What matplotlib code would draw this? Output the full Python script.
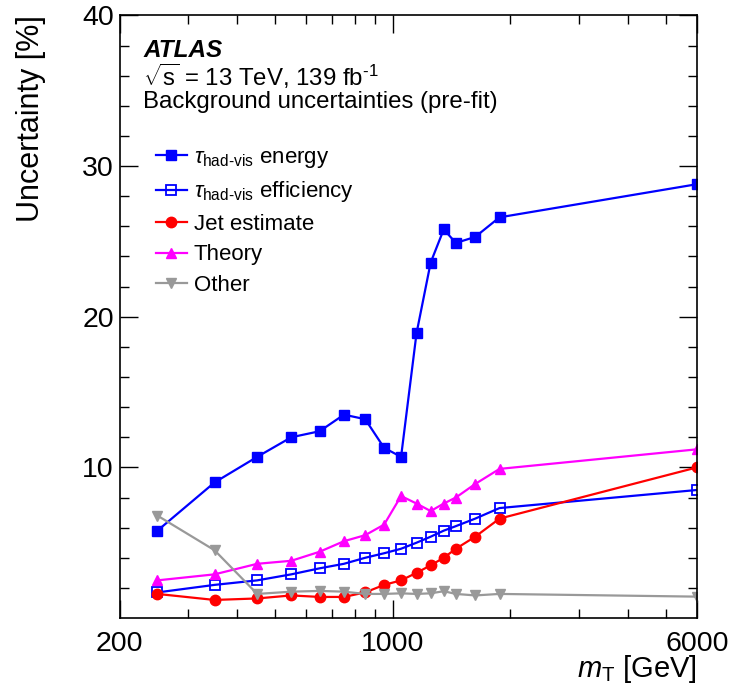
"""
Background uncertainties (pre-fit) vs m_T - ATLAS style line plot
"""
import matplotlib
matplotlib.use("Agg")
import matplotlib.pyplot as plt
from matplotlib.ticker import NullFormatter

# ============= DATA =============
mt_gev = [250, 350, 450, 550, 650, 750, 850, 950, 1050, 1150, 1250, 1350, 1450, 1625, 1875, 6000]
tau_energy = [5.8, 9.0, 10.7, 12.0, 12.4, 13.5, 13.2, 11.3, 10.7, 18.9, 23.6, 25.8, 24.9, 25.3, 26.6, 28.8]
tau_efficiency = [1.7, 2.2, 2.5, 2.9, 3.3, 3.6, 4.0, 4.3, 4.6, 5.0, 5.4, 5.8, 6.1, 6.6, 7.3, 8.5]
jet_estimate = [1.6, 1.2, 1.3, 1.5, 1.4, 1.4, 1.7, 2.2, 2.5, 3.0, 3.5, 4.0, 4.6, 5.4, 6.6, 10.0]
theory = [2.5, 2.9, 3.6, 3.8, 4.4, 5.1, 5.5, 6.2, 8.1, 7.6, 7.1, 7.6, 8.0, 8.9, 9.9, 11.2]
other = [6.8, 4.5, 1.6, 1.75, 1.8, 1.75, 1.6, 1.6, 1.64, 1.6, 1.64, 1.78, 1.6, 1.5, 1.6, 1.42]

series_labels = [r"$\tau_{\mathrm{had}\text{-}\mathrm{vis}}$ energy",
                 r"$\tau_{\mathrm{had}\text{-}\mathrm{vis}}$ efficiency",
                 "Jet estimate", "Theory", "Other"]

x_major = [200, 1000, 6000]
x_minor = [300, 400, 500, 600, 700, 800, 900, 2000, 3000, 4000, 5000]
y_major = [10, 20, 30, 40]

# ============= STYLE =============
plt.rcParams['font.family'] = ['Liberation Sans', 'DejaVu Sans']
plt.rcParams['mathtext.fontset'] = 'custom'
plt.rcParams['mathtext.rm'] = 'Liberation Sans'
plt.rcParams['mathtext.it'] = 'Liberation Sans:italic'
plt.rcParams['mathtext.bf'] = 'Liberation Sans:bold'

fig = plt.figure(figsize=(7.31, 6.97), dpi=100)
ax = fig.add_axes([0.1635, 0.1133, 0.79, 0.8645])

lw = 1.6
ms = 7.5
styles = [
    dict(color='#0000ff', marker='s'),
    dict(color='#0000ff', marker='s', markerfacecolor='none', markeredgewidth=1.3),
    dict(color='#ff0000', marker='o'),
    dict(color='#ff00ff', marker='^'),
    dict(color='#999999', marker='v'),
]
all_series = [tau_energy, tau_efficiency, jet_estimate, theory, other]

for values, label, st in zip(all_series, series_labels, styles):
    ax.plot(mt_gev, values, linewidth=lw, markersize=ms, label=label, **st)

# ============= AXES =============
ax.set_xscale('log')
ax.set_xlim(200, 6000)
ax.set_ylim(0, 40)
ax.set_xticks(x_major)
ax.set_xticklabels([str(v) for v in x_major])
ax.set_xticks(x_minor, minor=True)
ax.xaxis.set_minor_formatter(NullFormatter())
ax.set_yticks(y_major)
ax.set_yticks(range(2, 40, 2), minor=True)

ax.tick_params(which='both', direction='in', top=True, right=True, width=1.0,
               labelsize=20.5)
ax.tick_params(which='major', length=13)
ax.tick_params(which='minor', length=6.5)
ax.tick_params(axis='x', pad=9)
ax.tick_params(axis='y', pad=4)
for sp in ax.spines.values():
    sp.set_linewidth(1.2)

ax.set_xlabel(r"$m_{\mathrm{T}}$ [GeV]", fontsize=21, ha='right', x=1.0)
ax.set_ylabel("Uncertainty [%]", fontsize=22, ha='right', y=1.0)
ax.yaxis.set_label_coords(-0.128, 1.0)
ax.xaxis.set_label_coords(1.0, -0.058)

# ============= LABELS =============
ax.text(0.041, 0.931, "ATLAS", transform=ax.transAxes, fontsize=17.5,
        fontweight='bold', fontstyle='italic', va='baseline')
ax.text(0.041, 0.883, r"$\sqrt{\mathrm{s}}$ = 13 TeV, 139 fb$^{\text{-1}}$",
        transform=ax.transAxes, fontsize=17.3, va='baseline')
ax.text(0.041, 0.846, "Background uncertainties (pre-fit)",
        transform=ax.transAxes, fontsize=17.3, va='baseline')

ax.legend(loc='upper left', bbox_to_anchor=(0.063, 0.782), frameon=False,
          fontsize=16, handlelength=1.4, handletextpad=0.3,
          labelspacing=0.43, borderpad=0, borderaxespad=0)

fig.savefig("out.png", dpi=100)
